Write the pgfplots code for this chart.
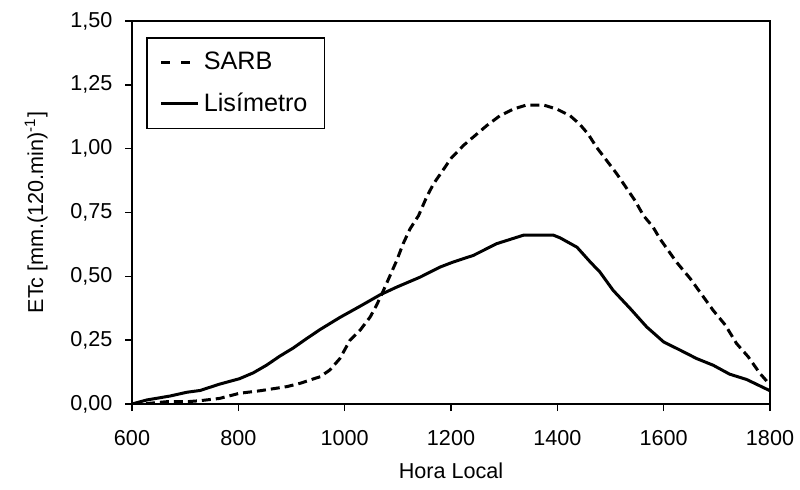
\documentclass[border=0pt]{standalone}
\usepackage{fontspec}
\setmainfont{Liberation Sans}
\usepackage{pgfplots}
\pgfplotsset{compat=1.18}
\begin{document}
\fontsize{10.8}{13}\selectfont
\begin{tikzpicture}
\begin{axis}[
  name=ax,
  scale only axis,
  width=319pt, height=191.5pt,
  xmin=600, xmax=1800, ymin=0, ymax=1.5,
  xtick={600,800,...,1800},
  ytick={0,0.25,...,1.5},
  xtick pos=bottom, ytick pos=left,
  tick align=outside,
  major tick length=3.5pt,
  axis line style={line width=0.8pt},
  every tick/.style={black, line width=0.8pt},
  /pgf/number format/assume math mode=true,
  /pgf/number format/.cd, use comma, fixed, fixed zerofill, precision=2, 1000 sep={},
  /pgfplots/.cd,
  xticklabel style={/pgf/number format/precision=0, /pgf/number format/fixed zerofill=false, yshift=-6pt},
  yticklabel style={xshift=-2.5pt},
  scaled ticks=false,
  xlabel={Hora Local},
  ylabel={ETc [mm.(120.min)\textsuperscript{-1}]},
  xlabel style={yshift=-1pt},
  ylabel style={yshift=4pt},
  legend style={at={(0.022,0.958)}, anchor=north west, draw=black, line width=0.8pt,
    inner xsep=6.5pt, inner ysep=5pt, row sep=6pt, font=\fontsize{12.6}{15}\selectfont,
    nodes={yshift=-1.5pt}},
  legend cell align=left,
  legend image code/.code={\draw[#1] (0pt,-1.5pt) -- (18.5pt,-1.5pt);},
]
\addplot[black, line width=1.5pt, dash pattern=on 4.5pt off 2.5pt,
  legend image post style={dash pattern=on 4.5pt off 5.5pt}] coordinates {
(600,0) (634,0.003) (665,0.009) (703,0.009) (728,0.013) (765,0.022) (802,0.042)
(841,0.052) (891,0.068) (916,0.081) (954,0.107) (972,0.133) (991,0.178)
(1010,0.25) (1029,0.289) (1048,0.341) (1060,0.387) (1073,0.445) (1098,0.5625)
(1110,0.628) (1123,0.686) (1139,0.738) (1154,0.81) (1167,0.862) (1183,0.91)
(1200,0.962) (1223,1.012) (1245,1.051) (1267,1.09) (1292,1.129) (1317,1.155)
(1342,1.171) (1374,1.171) (1399,1.155) (1424,1.129) (1442,1.096) (1458,1.057)
(1474,1.005) (1493,0.953) (1512,0.901) (1527,0.855) (1546,0.797) (1562,0.738)
(1580,0.693) (1593,0.647) (1624,0.556) (1650,0.491) (1668,0.439) (1693,0.367)
(1716,0.309) (1737,0.237) (1759,0.185) (1781,0.12) (1800,0.075)
};
\addlegendentry{SARB}
\addplot[black, line width=1.5pt] coordinates {
(600,0) (628,0.016) (671,0.031) (703,0.046) (728,0.053) (765,0.078) (802,0.099)
(828,0.122) (853,0.152) (878,0.1875) (903,0.219) (929,0.257) (954,0.292)
(991,0.339) (1029,0.383) (1066,0.427) (1098,0.458) (1142,0.497) (1179,0.536)
(1204,0.556) (1242,0.582) (1286,0.628) (1336,0.661) (1393,0.661) (1405,0.651)
(1437,0.614) (1462,0.556) (1480,0.517) (1505,0.445) (1537,0.374) (1568,0.302)
(1600,0.243) (1631,0.211) (1662,0.178) (1693,0.152) (1724,0.117) (1756,0.096)
(1800,0.052)
};
\addlegendentry{Lisímetro}
\end{axis}
\pgfresetboundingbox
\path ([xshift=-66pt,yshift=-42.5pt]ax.south west) rectangle ([xshift=15pt,yshift=10.5pt]ax.north east);
\end{tikzpicture}
\end{document}
